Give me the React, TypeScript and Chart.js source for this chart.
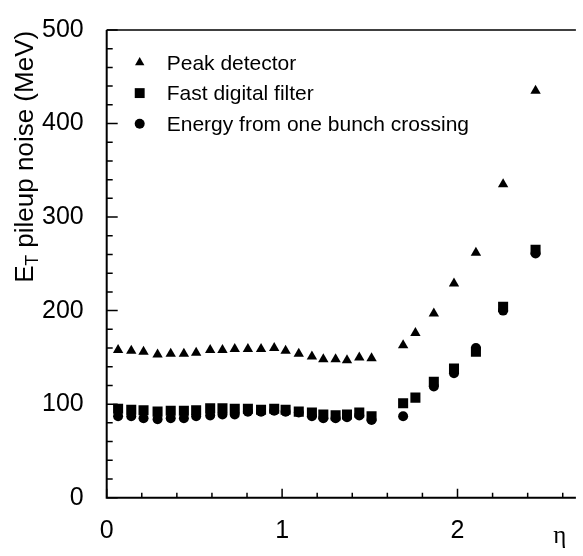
import React, { useEffect, useRef } from 'react';
import { Chart, registerables } from 'chart.js';

Chart.register(...registerables);

const FONT = "'Liberation Sans', Arial, Helvetica, sans-serif";
const SERIF = "'Liberation Serif', 'DejaVu Serif', serif";

// ---- data ----
const etaValues = [
  0.065, 0.14, 0.21, 0.29, 0.365, 0.44, 0.51, 0.59, 0.66, 0.73, 0.805,
  0.88, 0.955, 1.02, 1.095, 1.17, 1.235, 1.305, 1.37, 1.44, 1.51,
  1.69, 1.76, 1.865, 1.98, 2.105, 2.26, 2.445,
];
const peakDetector = [
  158, 157, 156, 153, 154, 154, 155, 158, 158, 159, 159,
  159, 160, 157, 154, 151, 148, 148, 147, 150, 149,
  163, 176, 197, 229, 262, 335, 435,
];
const fastDigitalFilter = [
  95, 94, 93.5, 92, 93, 93, 93.5, 95.5, 95.5, 95, 95,
  94, 95, 94, 92, 91, 89, 88, 89, 91, 87,
  101, 107, 124, 138, 156, 204, 265,
];
const oneBunchCrossing: (number | null)[] = [
  87, 87, 85, 84, 85, 85, 87, 88, 89, 89, 92,
  92, 93, 92, 91, 87, 85, 85, 86, 88, 83,
  87, null, 119, 133, 160, 200, 261,
];
const seriesLabels = ['Peak detector', 'Fast digital filter', 'Energy from one bunch crossing'];
const seriesStyles = ['triangle', 'rect', 'circle'];
const seriesRadius = [6.0, 7.1, 5.0];
const legendRadius = [5.4, 7.0, 5.0];
const xTickValues = [0, 1, 2];
const yTickValues = [0, 100, 200, 300, 400, 500];
const xMinorStep = 0.2;
const yMinorStep = 20;

function toPoints(values: (number | null)[]) {
  const pts: { x: number; y: number }[] = [];
  values.forEach((v, i) => {
    if (v !== null) pts.push({ x: etaValues[i], y: v });
  });
  return pts;
}

function drawMarker(ctx: CanvasRenderingContext2D, style: string, x: number, y: number, r: number) {
  ctx.beginPath();
  if (style === 'triangle') {
    const s = Math.sin((2 * Math.PI) / 3) * r;
    ctx.moveTo(x, y - r);
    ctx.lineTo(x + s, y + r / 2);
    ctx.lineTo(x - s, y + r / 2);
    ctx.closePath();
  } else if (style === 'rect') {
    const s = Math.SQRT1_2 * r;
    ctx.rect(x - s, y - s, 2 * s, 2 * s);
  } else {
    ctx.arc(x, y, r, 0, Math.PI * 2);
  }
  ctx.fill();
}

const framePlugin = {
  id: 'frameAndTicks',
  afterDraw(chart: any) {
    const ctx: CanvasRenderingContext2D = chart.ctx;
    const xs = chart.scales.x;
    const ys = chart.scales.y;
    const { left, right, top, bottom } = chart.chartArea;
    ctx.save();
    ctx.strokeStyle = '#000';
    ctx.fillStyle = '#000';
    // axes
    ctx.lineWidth = 2;
    ctx.beginPath();
    ctx.moveTo(left, top);
    ctx.lineTo(left, bottom);
    ctx.lineTo(right, bottom);
    ctx.stroke();
    ctx.lineWidth = 1.5;
    ctx.beginPath();
    ctx.moveTo(left, top);
    ctx.lineTo(right, top);
    ctx.stroke();
    // x ticks (inward)
    ctx.lineWidth = 1.5;
    ctx.beginPath();
    for (let i = 0; i * xMinorStep <= xs.max + 1e-9; i++) {
      const v = i * xMinorStep;
      const px = xs.getPixelForValue(v);
      const major = Math.abs(v - Math.round(v)) < 1e-6;
      ctx.moveTo(px, bottom);
      ctx.lineTo(px, bottom - (major ? 9 : 5));
    }
    // y ticks (inward)
    for (let i = 0; i * yMinorStep <= ys.max + 1e-9; i++) {
      const v = i * yMinorStep;
      const py = ys.getPixelForValue(v);
      const major = v % 100 === 0;
      ctx.moveTo(left, py);
      ctx.lineTo(left + (major ? 11 : 6), py);
    }
    ctx.stroke();

    // legend
    chart.data.datasets.forEach((ds: any, i: number) => {
      const cy = top + 32.5 + i * 30.6;
      drawMarker(ctx, seriesStyles[i], left + 33, cy, legendRadius[i]);
      ctx.font = `21px ${FONT}`;
      ctx.textAlign = 'left';
      ctx.textBaseline = 'alphabetic';
      ctx.fillText(ds.label, left + 60, cy + 7.3);
    });

    // x axis title (eta)
    ctx.font = `25px ${SERIF}`;
    ctx.textAlign = 'center';
    ctx.fillText('η', right - 16, bottom + 45);

    // y axis title with subscript
    ctx.translate(33, bottom - 215);
    ctx.rotate(-Math.PI / 2);
    ctx.textAlign = 'left';
    ctx.font = `26px ${FONT}`;
    ctx.fillText('E', 0, 0);
    const wE = ctx.measureText('E').width;
    ctx.font = `18px ${FONT}`;
    ctx.fillText('T', wE - 0.5, 5);
    const wT = ctx.measureText('T').width;
    ctx.font = `26px ${FONT}`;
    ctx.fillText(' pileup noise (MeV)', wE - 0.5 + wT, 0);
    ctx.restore();
  },
};

export default function App() {
  const canvasRef = useRef<HTMLCanvasElement | null>(null);

  useEffect(() => {
    if (!canvasRef.current) return;
    Chart.defaults.font.family = FONT;
    Chart.defaults.color = '#000';
    const series = [peakDetector, fastDigitalFilter, oneBunchCrossing];
    const chart = new Chart(canvasRef.current, {
      type: 'scatter',
      data: {
        datasets: series.map((vals, i) => ({
          label: seriesLabels[i],
          data: toPoints(vals),
          pointStyle: seriesStyles[i] as any,
          pointRadius: seriesRadius[i],
          pointHoverRadius: seriesRadius[i],
          backgroundColor: '#000',
          borderColor: '#000',
          borderWidth: 0,
          showLine: false,
        })),
      },
      options: {
        animation: false,
        responsive: false,
        devicePixelRatio: 1,
        layout: { padding: { top: 18, left: 0, right: 0, bottom: 0 } },
        plugins: { legend: { display: false }, tooltip: { enabled: false } },
        scales: {
          x: {
            type: 'linear',
            min: 0,
            max: 2.675,
            grid: { display: false },
            border: { display: false },
            afterFit: (s: any) => { s.height = 58.3; },
            afterBuildTicks: (s: any) => { s.ticks = xTickValues.map((v) => ({ value: v })); },
            ticks: { font: { size: 25, family: FONT }, color: '#000', padding: 10, includeBounds: false, maxRotation: 0 },
          },
          y: {
            type: 'linear',
            min: 0,
            max: 500,
            grid: { display: false },
            border: { display: false },
            afterFit: (s: any) => { s.width = 106.7; },
            afterBuildTicks: (s: any) => { s.ticks = yTickValues.map((v) => ({ value: v })); },
            ticks: { font: { size: 25, family: FONT }, color: '#000', padding: 15 },
          },
        },
      },
      plugins: [framePlugin],
    });
    return () => chart.destroy();
  }, []);

  return (
    <div style={{ position: 'fixed', left: 0, top: 0, width: 583, height: 556, background: '#fff', overflow: 'hidden' }}>
      <canvas ref={canvasRef} width={583} height={556} style={{ width: 583, height: 556, display: 'block' }} />
    </div>
  );
}
